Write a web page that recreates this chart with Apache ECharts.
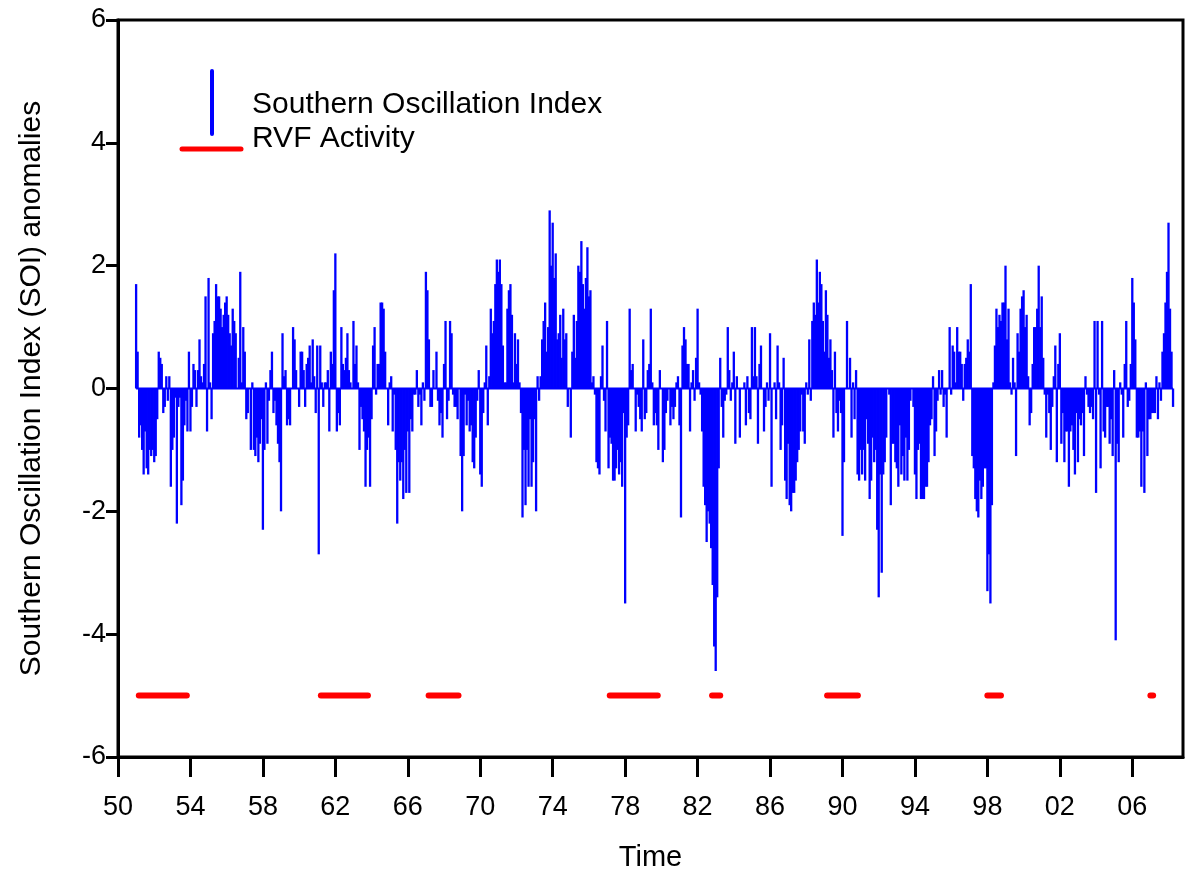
<!DOCTYPE html>
<html>
<head>
<meta charset="utf-8">
<script src="https://cdn.jsdelivr.net/npm/echarts@6/dist/echarts.min.js"></script>
<style>
  html, body { margin: 0; padding: 0; background: #fff; }
  #chart { width: 1192px; height: 871px; }
</style>
</head>
<body>
<div id="chart"></div>
<script>
// Monthly SOI anomalies, January 1951 onward (one row per year)
const soiStartYear = 1951;
const soi1950s = [
  1.7, 0.6, -0.8, -0.6, -1.0, -1.4, -0.7, -1.3, -1.4, -1.0, -1.1, -1.0,
  -1.2, -1.1, -0.5, 0.6, 0.5, 0.4, -0.4, -0.3, 0.2, -0.2, 0.2, -1.6,
  -1.0, -0.8, -0.15, -2.2, -0.3, -0.15, -1.9, -1.5, -0.6, -0.2, -0.7, 0.6,
  -0.7, -0.3, 0.4, 0.3, -0.3, 0.3, 0.8, 0.2, 0.1, 0.4, 1.5, -0.7,
  1.8, 0.1, -0.5, 0.9, 1.1, 1.7, 1.5, 1.5, 1.3, 1.0, 1.2, 1.4,
  1.5, 1.2, 0.9, 0.7, 1.3, 1.1, 0.9, 0.0, 0.5, 1.9, 0.1, 1.0,
  0.6, -0.5, -0.4, 0.0, -1.0, 0.1, -1.0, -1.1, -0.8, -1.2, -0.9, -0.5,
  -2.3, -1.0, 0.1, -0.9, -0.2, 0.3, 0.6, -0.4, -0.2, -0.6, -0.9, -1.2,
  -2.0, 0.9, 0.2, 0.3, -0.6, -0.5, -0.6, 0.0, 1.0, 0.8, 0.3, 0.0
];
const soi1960s = [
  -0.3, 0.6, 0.6, 0.3, -0.3, 0.4, 0.5, 0.7, 0.1, 0.8, 0.2, -0.4,
  0.7, -2.7, 0.7, 0.1, -0.3, 0.1, 0.1, 0.3, -0.7, 0.6, 0.4, 1.6,
  2.2, -0.7, -0.4, -0.6, 1.0, 0.4, 0.3, 0.5, 0.9, 0.3, 0.1, 0.0,
  1.1, 0.4, 0.7, 0.1, -1.0, -0.3, -0.5, -0.7, -1.6, -1.0, -0.8, -1.6,
  -0.5, 0.7, 1.0, -0.1, 0.4, 0.4, 1.4, 1.4, 1.3, 0.6, 0.0, -0.6,
  0.1, 0.2, -0.7, -0.1, -1.0, -2.2, -1.2, -1.5, -1.2, -1.8, -1.0, -1.7,
  -0.7, -1.7, -0.5, -0.7, -0.1, -0.1, 0.3, -0.3, -0.1, -0.6, 0.1, -0.2,
  1.9, 1.6, 0.8, -0.3, -0.3, 0.3, 0.0, 0.6, -0.2, -0.6, -0.4, -0.8,
  0.4, 1.1, -0.5, -0.2, 1.1, 0.9, -0.1, -0.3, -0.3, -0.5, 0.0, -1.1,
  -2.0, -1.1, -0.1, -0.6, -0.2, -0.7, -0.6, -1.2, -1.3, -0.8, -0.2, 0.3
];
const soi1970s = [
  -1.4, -1.6, -0.4, 0.1, 0.7, -0.6, 0.2, 1.3, 0.9, 1.1, 1.7, 2.1,
  1.9, 2.1, 1.7, 0.7, 0.1, 0.1, 1.3, 1.6, 1.7, 1.2, 0.1, 0.9,
  0.4, 0.8, 0.1, -0.4, -2.1, -1.0, -1.9, -1.0, -1.6, -0.5, -1.6, -1.2,
  -0.5, -2.0, 0.2, -0.2, 0.2, 0.8, 1.1, 1.4, 0.6, 1.0, 2.9, 2.0,
  2.7, 1.8, 2.2, 0.8, 0.9, 1.2, 0.5, 1.3, 0.8, 0.9, -0.3, 0.0,
  -0.8, 0.6, 1.2, 0.5, 1.1, 2.0, 1.9, 2.4, 1.7, 1.3, 1.8, 2.3,
  1.5, 1.6, 0.1, 0.2, -0.1, -1.2, -1.3, -1.4, 0.2, 0.7, -0.2, -0.7,
  1.1, -1.3, -0.8, -0.9, -1.5, -1.5, -1.3, -1.0, -1.4, -1.2, -1.6, -0.4,
  -3.5, -0.8, -0.6, 1.3, 0.3, 0.4, 0.0, -0.7, -0.1, -0.3, -0.5, -0.7,
  0.8, -0.5, -0.4, 0.3, 0.4, 1.3, 0.1, -0.6, -0.4, -0.6, -1.0, 0.3
];
const soi1980s = [
  0.0, -1.2, -1.0, -0.4, -0.2, 0.0, -0.6, -0.3, -0.5, -0.3, 0.1, 0.2,
  -0.6, -2.1, 0.7, 1.0, 0.8, 0.4, 0.4, -0.7, 0.1, 0.3, -0.2, 0.5,
  1.3, 0.1, -0.1, -0.7, -1.6, -1.9, -2.5, -2.0, -2.2, -2.6, -3.2, -4.2,
  -4.6, -3.4, -1.3, 0.5, -0.3, -0.8, -0.2, -0.1, 1.0, 0.3, -0.2, 0.1,
  0.6, -0.9, 0.2, 0.0, -0.8, 0.0, 0.0, 0.1, -0.6, 0.2, -0.4, -0.5,
  1.0, 0.2, 1.0, 0.2, -0.9, 0.4, 0.7, 0.0, -0.7, -0.3, 0.1, -0.2,
  0.9, -1.6, 0.0, 0.1, -0.5, 0.7, 0.1, -1.0, -0.6, 0.5, -1.5, -1.8,
  -0.9, -1.9, -2.0, -1.7, -1.7, -1.5, -1.2, -1.0, -0.7, -0.1, -0.7, -0.9,
  0.1, -0.1, 0.8, -0.2, 1.1, 1.4, 1.2, 2.1, 1.4, 1.9, 1.7, 1.1,
  0.6, 1.6, 1.2, 0.5, 0.8, 0.3, -0.8, 0.6, -0.4, -0.7, -0.2, -0.4
];
const soi1990s = [
  -2.4, -1.2, 0.0, 1.1, 0.0, 0.5, -0.8, 0.1, -0.5, 0.3, -1.4, -1.5,
  -1.0, -1.4, -1.0, -1.5, -0.5, -0.9, -1.8, -1.5, -0.8, -1.2, -1.0, -2.3,
  -3.4, -1.4, -3.0, -1.4, -1.2, -0.8, 0.0, -0.1, -1.9, -0.9, -0.9, -1.2,
  -1.3, -1.6, -0.6, -1.4, -1.1, -1.5, -0.8, -1.5, -1.0, -0.2, 0.0, -0.3,
  -1.4, -1.8, -1.0, -0.9, -1.8, -1.8, -1.8, -1.6, -1.6, -1.2, -0.6, -0.5,
  0.2, -1.1, -0.7, -0.2, 0.3, -0.1, 0.3, -0.3, -0.1, -0.8, 0.0, 1.0,
  -0.1, 0.7, 0.6, 0.1, 1.0, 0.6, 0.6, 0.4, -0.2, 0.4, 0.5, 0.8,
  0.6, 1.7, -1.1, -1.3, -1.8, -2.0, -2.1, -1.5, -1.8, -1.6, -1.3, -1.3,
  -3.3, -2.7, -3.5, -1.9, 0.1, 0.7, 1.3, 1.0, 1.2, 1.1, 1.4, 1.4,
  2.0, 0.8, 1.3, 0.1, -0.1, 0.5, 0.1, -1.1, 0.9, 0.6, 1.3, 1.5
];
const soi2000s = [
  1.6, 1.0, 1.2, 0.2, -0.6, -0.4, 0.4, 1.0, 1.0, 1.3, 2.0, 1.0,
  1.5, 0.5, -0.1, -0.8, -0.1, -0.4, -1.0, -0.3, 0.2, 0.7, -1.2, 0.4,
  0.9, -0.9, -0.4, -1.2, -0.7, -0.7, -1.6, -0.7, -0.6, -1.0, -1.4, -0.4,
  -1.2, -0.5, -0.6, -0.4, -1.1, 0.2, -0.1, -0.3, -0.4, -0.3, -0.5, 1.1,
  -1.7, 1.1, -0.1, -1.3, 1.1, -0.7, -0.8, -0.3, -0.3, -0.9, -0.5, -1.1,
  0.3, -4.1, -0.9, -1.2, 0.1, -0.1, -0.8, 0.4, 1.1, -0.3, -0.2, 0.4,
  1.8, 1.4, 0.8, -0.8, -0.8, -0.7, -1.6, -0.7, -1.7, 0.1, -1.1, -0.5,
  -0.5, -0.4, -0.4, -0.4, 0.2, -0.5, 0.1, -0.2, 0.6, 0.9, 1.4, 1.9,
  2.7, 1.3, 0.6, -0.3
];

// Periods of Rift Valley fever activity (decimal years)
const rvfPeriods = [
  [1951.15, 1953.8], [1961.2, 1963.8], [1967.15, 1968.8], [1977.15, 1979.8],
  [1982.8, 1983.25], [1989.15, 1990.85], [1998.0, 1998.75], [2007.0, 2007.15]
];
const rvfLevel = -5;

// Axis ticks
const xTickYears = [1950, 1954, 1958, 1962, 1966, 1970, 1974, 1978, 1982, 1986, 1990, 1994, 1998, 2002, 2006];
const xRange = [1950, 2008.8];
const yRange = [-6, 6];
const yStep = 2;

const soiMonthly = [].concat(soi1950s, soi1960s, soi1970s, soi1980s, soi1990s, soi2000s);
const soiData = soiMonthly.map((v, i) => [soiStartYear + i / 12, v]);
const soiEnd = soiStartYear + (soiMonthly.length - 1) / 12;

const font = '"Liberation Sans", Arial, sans-serif';
const chart = echarts.init(document.getElementById('chart'), null, { renderer: 'canvas' });

// One filled bar per month, from zero to the SOI value, slightly wider than a month
function renderMonthBar(params, api) {
  const t = api.value(0);
  const v = api.value(1);
  const base = api.coord([t, 0]);
  const top = api.coord([t, v]);
  const w = api.size([1 / 12, 0])[0] + 0.8;
  return {
    type: 'rect',
    shape: {
      x: base[0] - w / 2,
      y: Math.min(base[1], top[1]),
      width: w,
      height: Math.abs(top[1] - base[1])
    },
    style: { fill: '#0000ff' }
  };
}

const rvfSeries = rvfPeriods.map(p => ({
  type: 'line',
  data: [[p[0], rvfLevel], [p[1], rvfLevel]],
  symbol: 'none',
  silent: true,
  lineStyle: { color: '#ff0000', width: 6, cap: 'round' },
  z: 4
}));

chart.setOption({
  animation: false,
  backgroundColor: '#ffffff',
  grid: {
    left: 118, right: 9, top: 20, bottom: 114,
    outerBoundsMode: 'none',
    containLabel: false,
    show: true, borderColor: '#000', borderWidth: 3, backgroundColor: 'transparent'
  },
  xAxis: {
    type: 'value',
    min: xRange[0], max: xRange[1],
    name: 'Time',
    nameLocation: 'middle',
    nameGap: 86,
    nameTextStyle: { fontFamily: font, fontSize: 29, color: '#000' },
    axisLine: { show: true, onZero: false, lineStyle: { color: '#000', width: 3 } },
    axisTick: { show: true, length: 20, customValues: xTickYears, lineStyle: { color: '#000', width: 3 } },
    axisLabel: {
      customValues: xTickYears,
      margin: 37,
      fontFamily: font, fontSize: 27, color: '#000',
      formatter: v => String(Math.round(v) % 100).padStart(2, '0')
    },
    splitLine: { show: false }
  },
  yAxis: {
    type: 'value',
    min: yRange[0], max: yRange[1], interval: yStep,
    name: 'Southern Oscillation Index (SOI) anomalies',
    nameLocation: 'middle',
    nameGap: 71,
    nameTextStyle: { fontFamily: font, fontSize: 30, color: '#000' },
    axisLine: { show: true, onZero: false, lineStyle: { color: '#000', width: 3 } },
    axisTick: { show: true, length: 12, lineStyle: { color: '#000', width: 3 } },
    axisLabel: { margin: 12, fontFamily: font, fontSize: 27, color: '#000' },
    splitLine: { show: false }
  },
  graphic: [
    { type: 'line', shape: { x1: 212, y1: 71, x2: 212, y2: 134 },
      style: { stroke: '#0000ff', lineWidth: 4, lineCap: 'round' } },
    { type: 'line', shape: { x1: 182, y1: 149, x2: 241, y2: 149 },
      style: { stroke: '#ff0000', lineWidth: 5, lineCap: 'round' } },
    { type: 'text', left: 252, top: 90,
      style: { text: 'Southern Oscillation Index', font: '30px ' + font, fill: '#000' } },
    { type: 'text', left: 252, top: 124,
      style: { text: 'RVF Activity', font: '30px ' + font, fill: '#000' } }
  ],
  series: [
    {
      type: 'custom',
      data: soiData,
      renderItem: renderMonthBar,
      encode: { x: 0, y: 1 },
      silent: true,
      clip: true,
      z: 3
    },
    {
      type: 'line',
      data: [[soiStartYear, 0], [soiEnd, 0]],
      symbol: 'none',
      silent: true,
      lineStyle: { color: '#0000ff', width: 2 },
      z: 3
    }
  ].concat(rvfSeries)
});
</script>
</body>
</html>
